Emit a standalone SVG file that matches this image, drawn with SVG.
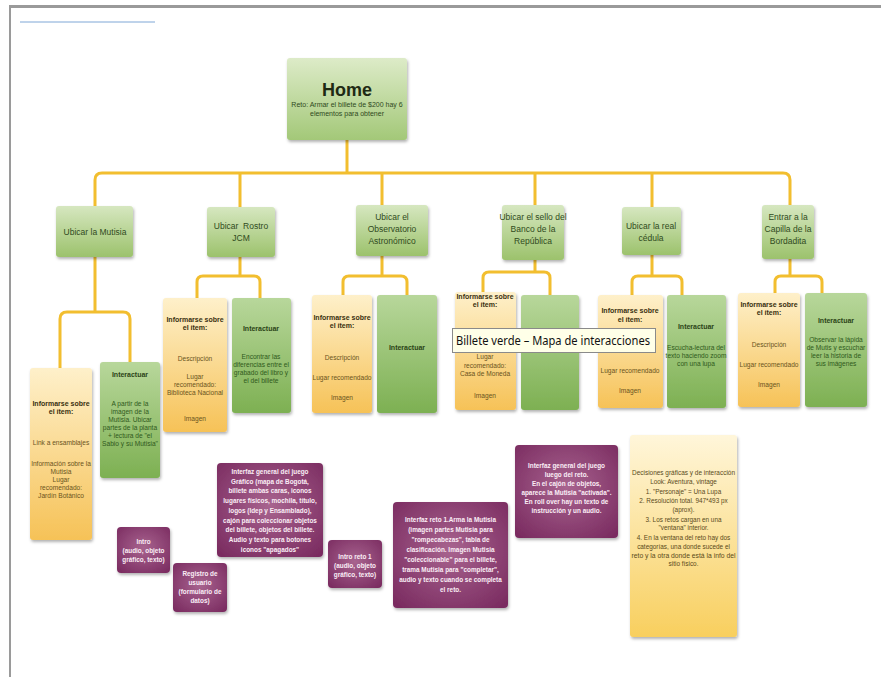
<svg xmlns="http://www.w3.org/2000/svg" width="881" height="677" viewBox="0 0 881 677">
<style>
text{font-family:"Liberation Sans",Arial,sans-serif;text-anchor:middle}
.home{font-size:18px;font-weight:bold;fill:#1f2a14}
.sub{font-size:7px;fill:#2f4a1c}
.cat{font-size:8.5px;fill:#2f4a1c}
.hy{font-size:7px;font-weight:bold;fill:#3a3010}
.by{font-size:6.6px;fill:#6a5420}
.hg{font-size:7px;font-weight:bold;fill:#2b4416}
.bg{font-size:6.6px;fill:#2f5a1c}
.pt{font-size:6.4px;font-weight:bold;fill:#fbeef6}
.nt{font-size:6.4px;fill:#5a4a1a}
.ln{fill:none;stroke:#F2BE2F;stroke-width:3;stroke-linejoin:round}
.tip{font-family:"Noto Sans","Open Sans",sans-serif;font-size:12px;fill:#111;text-anchor:start}
</style>
<defs>
<linearGradient id="gHome" x1="0" y1="0" x2="0" y2="1"><stop offset="0" stop-color="#DDEBC8"/><stop offset="1" stop-color="#A3C878"/></linearGradient>
<linearGradient id="gCat" x1="0" y1="0" x2="0" y2="1"><stop offset="0" stop-color="#D6E7C0"/><stop offset="1" stop-color="#9CC26C"/></linearGradient>
<linearGradient id="gInt" x1="0" y1="0" x2="0" y2="1"><stop offset="0" stop-color="#B8D79B"/><stop offset="1" stop-color="#7DB052"/></linearGradient>
<linearGradient id="gYel" x1="0" y1="0" x2="0" y2="1"><stop offset="0" stop-color="#FEF0CA"/><stop offset="1" stop-color="#F6C257"/></linearGradient>
<linearGradient id="gNote" x1="0" y1="0" x2="0" y2="1"><stop offset="0" stop-color="#FFF6DA"/><stop offset="1" stop-color="#F8CF5E"/></linearGradient>
<radialGradient id="gPur" cx="0.5" cy="0.45" r="0.7"><stop offset="0" stop-color="#A8648F"/><stop offset="1" stop-color="#7A2B60"/></radialGradient>
<filter id="sh" x="-10%" y="-10%" width="130%" height="130%"><feDropShadow dx="1" dy="2" stdDeviation="1.5" flood-color="#000" flood-opacity="0.3"/></filter>
</defs>
<rect width="881" height="677" fill="#fff"/>
<rect x="10" y="5" width="871" height="3" fill="#9a9a9a"/>
<rect x="9" y="5" width="2" height="672" fill="#9a9a9a"/>
<line x1="20" y1="22" x2="155" y2="22" stroke="#7FA7D6" stroke-width="1"/>

<g id="connectors">
<path class="ln" d="M347,140 V173"/>
<path class="ln" d="M95,206 V180 Q95,173 102,173 H783 Q790,173 790,180 V205"/>
<path class="ln" d="M240,173 V207 M382,173 V205 M535,173 V205 M652,173 V207"/>
<path class="ln" d="M95,257 V312 M60,368 V319 Q60,312 67,312 H123 Q130,312 130,319 V362"/>
<path class="ln" d="M240,257 V276 M197,298 V282 Q197,276 203,276 H254 Q260,276 260,282 V298"/>
<path class="ln" d="M382,256 V276 M343,295 V282 Q343,276 349,276 H401 Q407,276 407,282 V295"/>
<path class="ln" d="M535,260 V272 M483,292 V278 Q483,272 489,272 H544 Q550,272 550,278 V295"/>
<path class="ln" d="M652,255 V276 M632,295 V282 Q632,276 638,276 H676 Q682,276 682,282 V295"/>
<path class="ln" d="M790,259 V276 M775,293 V282 Q775,276 781,276 H816 Q822,276 822,282 V293"/>
</g>

<g id="home"><rect x="287" y="58" width="120" height="82" rx="3" fill="url(#gHome)" filter="url(#sh)"/>
<text class="home" x="347" y="96">Home</text>
<text class="sub" x="347" y="107">Reto: Armar el billete de $200 hay 6</text>
<text class="sub" x="347" y="116">elementos para obtener</text></g>

<g id="cat1"><rect x="56" y="206" width="77" height="51" rx="3" fill="url(#gCat)" filter="url(#sh)"/>
<text class="cat" x="95" y="235">Ubicar la Mutisia</text></g>
<g id="cat2"><rect x="207" y="207" width="68" height="50" rx="3" fill="url(#gCat)" filter="url(#sh)"/>
<text class="cat" x="241" y="229" xml:space="preserve">Ubicar  Rostro</text><text class="cat" x="241" y="241">JCM</text></g>
<g id="cat3"><rect x="356" y="205" width="72" height="51" rx="3" fill="url(#gCat)" filter="url(#sh)"/>
<text class="cat" x="392" y="220">Ubicar el</text><text class="cat" x="392" y="232">Observatorio</text><text class="cat" x="392" y="244">Astronómico</text></g>
<g id="cat4"><rect x="502" y="205" width="62" height="55" rx="3" fill="url(#gCat)" filter="url(#sh)"/>
<text class="cat" x="533" y="220">Ubicar el sello del</text><text class="cat" x="533" y="232">Banco de la</text><text class="cat" x="533" y="244">República</text></g>
<g id="cat5"><rect x="622" y="207" width="59" height="48" rx="3" fill="url(#gCat)" filter="url(#sh)"/>
<text class="cat" x="651" y="229">Ubicar la real</text><text class="cat" x="651" y="241">cédula</text></g>
<g id="cat6"><rect x="762" y="205" width="52" height="54" rx="3" fill="url(#gCat)" filter="url(#sh)"/>
<text class="cat" x="788" y="220">Entrar a la</text><text class="cat" x="788" y="232">Capilla de la</text><text class="cat" x="788" y="244">Bordadita</text></g>

<g id="info1"><rect x="30" y="368" width="62" height="172" rx="3" fill="url(#gYel)" filter="url(#sh)"/>
<text class="hy" x="61" y="406">Informarse sobre</text><text class="hy" x="61" y="414">el ítem:</text>
<text class="by" x="61" y="445">Link a ensamblajes</text>
<text class="by" x="61" y="466">Información sobre la</text><text class="by" x="61" y="474">Mutisia</text><text class="by" x="61" y="482">Lugar</text><text class="by" x="61" y="490">recomendado:</text><text class="by" x="61" y="498">Jardín Botánico</text></g>
<g id="int1"><rect x="100" y="362" width="60" height="116" rx="3" fill="url(#gInt)" filter="url(#sh)"/>
<text class="hg" x="130" y="377">Interactuar</text>
<text class="bg" x="130" y="406">A partir de la</text><text class="bg" x="130" y="414">imagen de la</text><text class="bg" x="130" y="422">Mutisia. Ubicar</text><text class="bg" x="130" y="430">partes de la planta</text><text class="bg" x="130" y="438">+ lectura de "el</text><text class="bg" x="130" y="446">Sabio y su Mutisia"</text></g>

<g id="info2"><rect x="163" y="298" width="64" height="134" rx="3" fill="url(#gYel)" filter="url(#sh)"/>
<text class="hy" x="195" y="322">Informarse sobre</text><text class="hy" x="195" y="330">el ítem:</text>
<text class="by" x="195" y="361">Descripción</text>
<text class="by" x="195" y="379">Lugar</text><text class="by" x="195" y="387">recomendado:</text><text class="by" x="195" y="395">Biblioteca Nacional</text>
<text class="by" x="195" y="421">Imagen</text></g>
<g id="int2"><rect x="232" y="298" width="59" height="115" rx="3" fill="url(#gInt)" filter="url(#sh)"/>
<text class="hg" x="261" y="331">Interactuar</text>
<text class="bg" x="261" y="359">Encontrar las</text><text class="bg" x="261" y="367">diferencias entre el</text><text class="bg" x="261" y="375">grabado del libro y</text><text class="bg" x="261" y="383">el del billete</text></g>

<g id="info3"><rect x="312" y="295" width="60" height="118" rx="3" fill="url(#gYel)" filter="url(#sh)"/>
<text class="hy" x="342" y="320">Informarse sobre</text><text class="hy" x="342" y="328">el ítem:</text>
<text class="by" x="342" y="360">Descripción</text><text class="by" x="342" y="380">Lugar recomendado</text><text class="by" x="342" y="400">Imagen</text></g>
<g id="int3"><rect x="377" y="295" width="60" height="118" rx="3" fill="url(#gInt)" filter="url(#sh)"/>
<text class="hg" x="407" y="350">Interactuar</text></g>

<g id="info4"><rect x="455" y="292" width="61" height="118" rx="3" fill="url(#gYel)" filter="url(#sh)"/>
<text class="hy" x="485" y="299">Informarse sobre</text><text class="hy" x="485" y="307">el ítem:</text>
<text class="by" x="485" y="359">Lugar</text><text class="by" x="485" y="368">recomendado:</text><text class="by" x="485" y="376">Casa de Moneda</text><text class="by" x="485" y="398">Imagen</text></g>
<g id="int4"><rect x="521" y="295" width="58" height="115" rx="3" fill="url(#gInt)" filter="url(#sh)"/></g>

<g id="info5"><rect x="598" y="295" width="65" height="113" rx="3" fill="url(#gYel)" filter="url(#sh)"/>
<text class="hy" x="630" y="313">Informarse sobre</text><text class="hy" x="630" y="322">el ítem:</text>
<text class="by" x="630" y="373">Lugar recomendado</text><text class="by" x="630" y="393">Imagen</text></g>
<g id="int5"><rect x="667" y="295" width="59" height="113" rx="3" fill="url(#gInt)" filter="url(#sh)"/>
<text class="hg" x="696" y="329">Interactuar</text>
<text class="bg" x="696" y="350">Escucha-lectura del</text><text class="bg" x="696" y="358">texto haciendo zoom</text><text class="bg" x="696" y="366">con una lupa</text></g>

<g id="info6"><rect x="738" y="293" width="62" height="114" rx="3" fill="url(#gYel)" filter="url(#sh)"/>
<text class="hy" x="769" y="307">Informarse sobre</text><text class="hy" x="769" y="315">el ítem:</text>
<text class="by" x="769" y="347">Descripción</text><text class="by" x="769" y="367">Lugar recomendado</text><text class="by" x="769" y="387">Imagen</text></g>
<g id="int6"><rect x="805" y="293" width="62" height="114" rx="3" fill="url(#gInt)" filter="url(#sh)"/>
<text class="hg" x="836" y="323">Interactuar</text>
<text class="bg" x="836" y="342">Observar la lápida</text><text class="bg" x="836" y="350">de Mutis y escuchar</text><text class="bg" x="836" y="358">leer la historia de</text><text class="bg" x="836" y="366">sus imágenes</text></g>

<g id="tooltip"><rect x="452.5" y="328.5" width="203" height="24" fill="#FFFFE8" stroke="#8a8a8a"/>
<text class="tip" x="456" y="345" textLength="194" lengthAdjust="spacingAndGlyphs">Billete verde – Mapa de interacciones</text></g>

<g id="p1"><rect x="117" y="527" width="53" height="46" rx="4" fill="url(#gPur)" filter="url(#sh)"/>
<text class="pt" x="143.5" y="544">Intro</text><text class="pt" x="143.5" y="553">(audio, objeto</text><text class="pt" x="143.5" y="562">gráfico, texto)</text></g>
<g id="p2"><rect x="173" y="563" width="54" height="49" rx="4" fill="url(#gPur)" filter="url(#sh)"/>
<text class="pt" x="200" y="576">Registro de</text><text class="pt" x="200" y="585">usuario</text><text class="pt" x="200" y="594">(formulario de</text><text class="pt" x="200" y="603">datos)</text></g>
<g id="p3"><rect x="217" y="463" width="106" height="94" rx="4" fill="url(#gPur)" filter="url(#sh)"/>
<text class="pt" x="270" y="474">Interfaz general del juego</text>
<text class="pt" x="270" y="483.7">Gráfico (mapa de Bogotá,</text>
<text class="pt" x="270" y="493.4">billete ambas caras, iconos</text>
<text class="pt" x="270" y="503.1">lugares físicos, mochila, título,</text>
<text class="pt" x="270" y="512.8">logos (Idep y Ensamblado),</text>
<text class="pt" x="270" y="522.5">cajón para coleccionar objetos</text>
<text class="pt" x="270" y="532.2">del billete, objetos del billete.</text>
<text class="pt" x="270" y="541.9">Audio y texto para botones</text>
<text class="pt" x="270" y="551.6">iconos "apagados"</text></g>
<g id="p4"><rect x="328" y="540" width="54" height="48" rx="4" fill="url(#gPur)" filter="url(#sh)"/>
<text class="pt" x="355" y="559">Intro reto 1</text><text class="pt" x="355" y="568">(audio, objeto</text><text class="pt" x="355" y="577">gráfico, texto)</text></g>
<g id="p5"><rect x="393" y="502" width="115" height="106" rx="4" fill="url(#gPur)" filter="url(#sh)"/>
<text class="pt" x="450.5" y="522">Interfaz reto 1.Arma la Mutisia</text>
<text class="pt" x="450.5" y="532">(imagen partes Mutisia para</text>
<text class="pt" x="450.5" y="542">"rompecabezas", tabla de</text>
<text class="pt" x="450.5" y="552">clasificación. Imagen Mutisia</text>
<text class="pt" x="450.5" y="562">"coleccionable" para el billete,</text>
<text class="pt" x="450.5" y="572">trama Mutisia para "completar",</text>
<text class="pt" x="450.5" y="582">audio y texto cuando se completa</text>
<text class="pt" x="450.5" y="592">el reto.</text></g>
<g id="p6"><rect x="515" y="445" width="103" height="93" rx="4" fill="url(#gPur)" filter="url(#sh)"/>
<text class="pt" x="566.5" y="468">Interfaz general del juego</text>
<text class="pt" x="566.5" y="477">luego del reto.</text>
<text class="pt" x="566.5" y="486">En el cajón de objetos,</text>
<text class="pt" x="566.5" y="495">aparece la Mutisia "activada".</text>
<text class="pt" x="566.5" y="504">En roll over hay un texto de</text>
<text class="pt" x="566.5" y="513">instrucción y un audio.</text></g>

<g id="note"><rect x="630" y="435" width="107" height="202" rx="3" fill="url(#gNote)" filter="url(#sh)"/>
<text class="nt" x="683.5" y="475" textLength="103" lengthAdjust="spacingAndGlyphs">Decisiones gráficas y de interacción</text>
<text class="nt" x="683.5" y="484">Look: Aventura, vintage</text>
<text class="nt" x="683.5" y="494">1. "Personaje" = Una Lupa</text>
<text class="nt" x="683.5" y="503">2. Resolución total. 947*493 px</text>
<text class="nt" x="683.5" y="512">(aprox).</text>
<text class="nt" x="683.5" y="522">3. Los retos cargan en una</text>
<text class="nt" x="683.5" y="530">"ventana" interior.</text>
<text class="nt" x="683.5" y="540">4. En la ventana del reto hay dos</text>
<text class="nt" x="683.5" y="549">categorías, una donde sucede el</text>
<text class="nt" x="683.5" y="558" textLength="104" lengthAdjust="spacingAndGlyphs">reto y la otra donde está la info del</text>
<text class="nt" x="683.5" y="566">sitio físico.</text></g>
</svg>
